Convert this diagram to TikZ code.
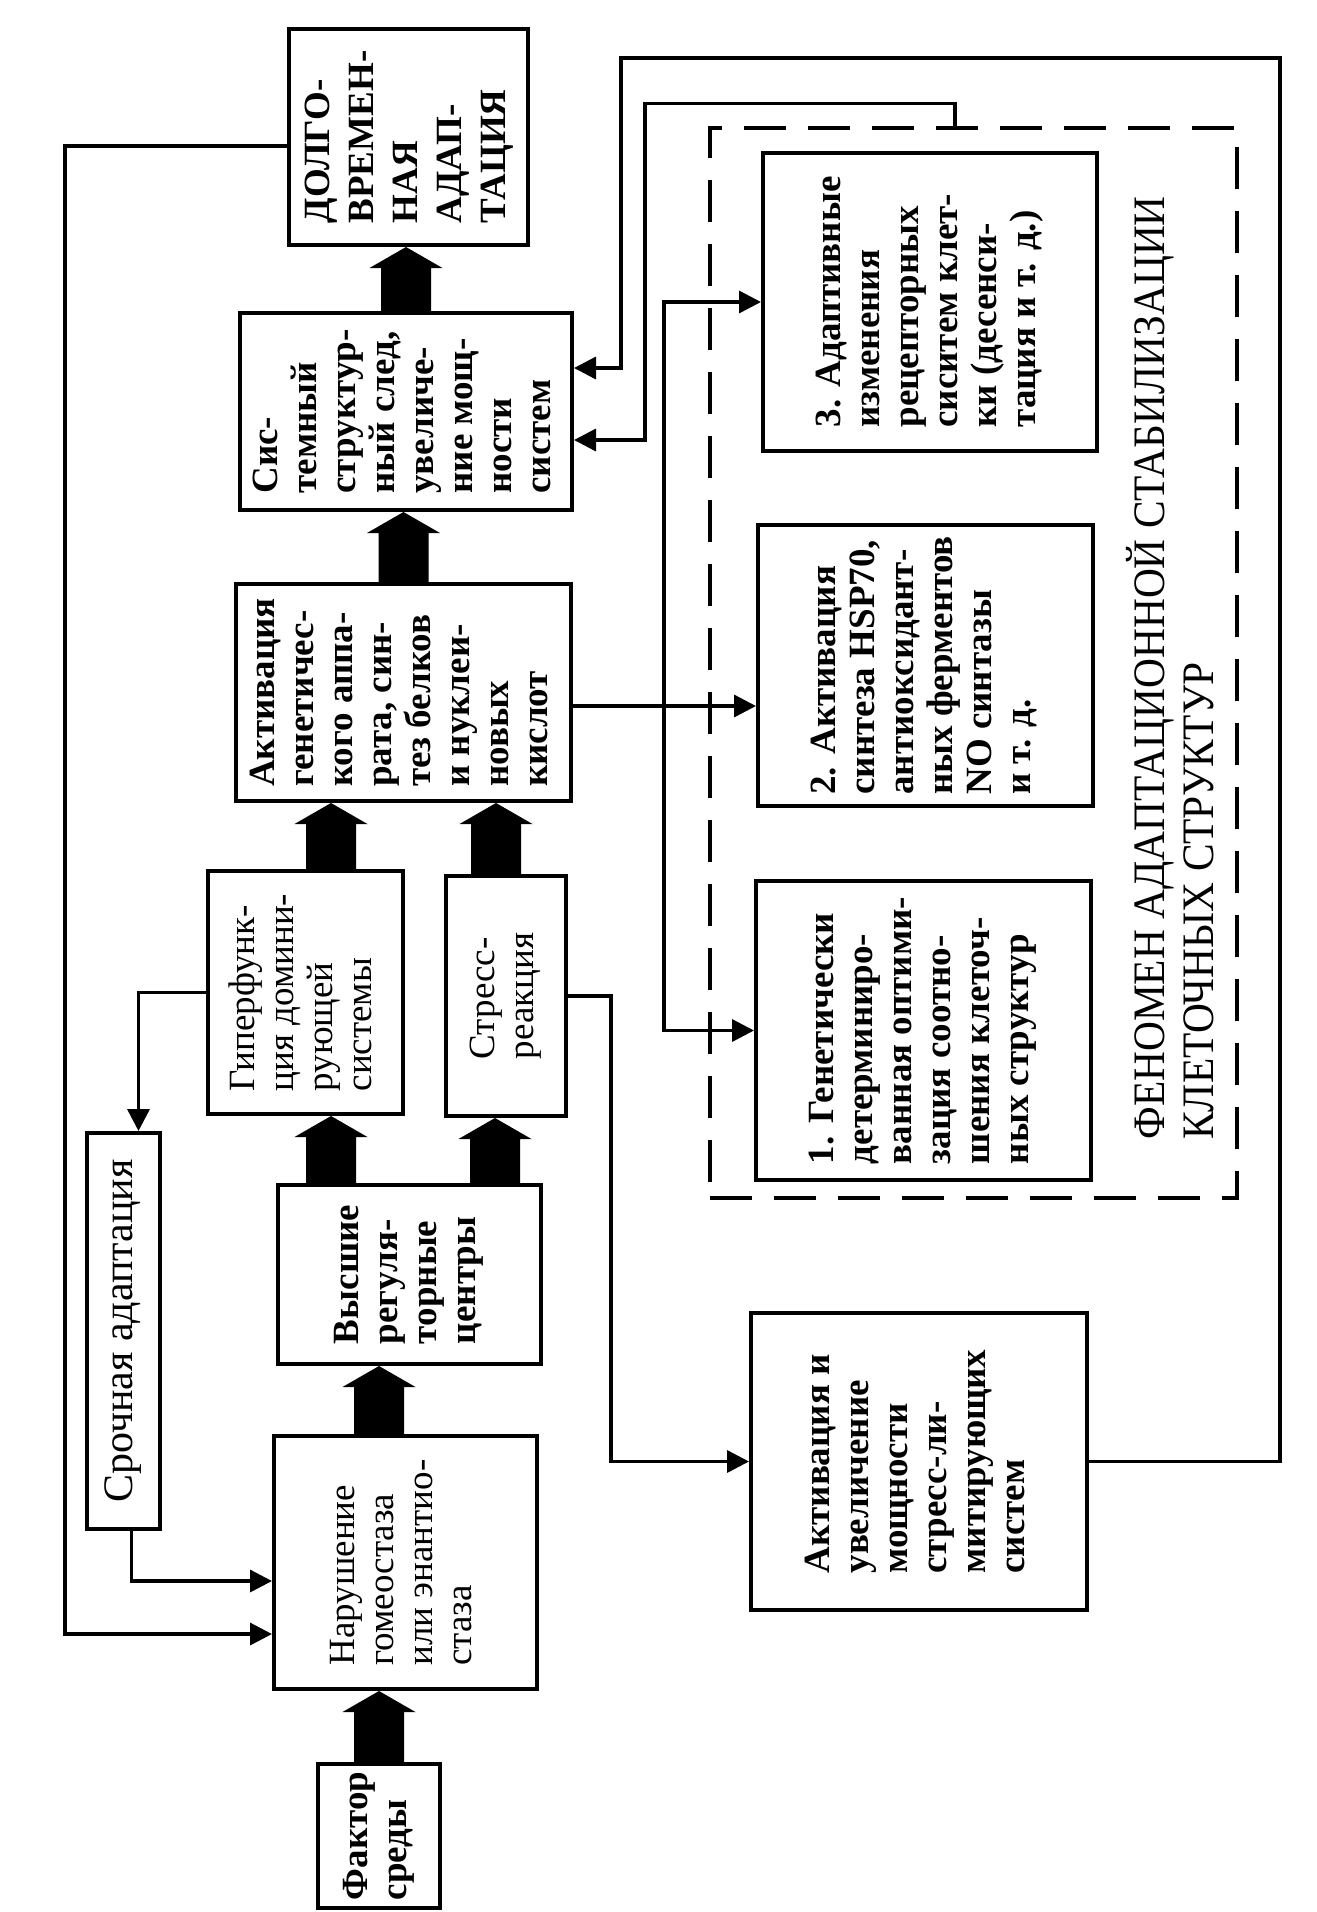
\documentclass[tikz,border=0pt]{standalone}
\usepackage{fontspec}
\setmainfont{Liberation Serif}
\newfontfamily\condserif[FakeStretch=0.92]{Liberation Serif}
\usetikzlibrary{arrows.meta,positioning,calc}

\newcommand{\vtext}[1]{\rotatebox{90}{\begin{tabular}{@{}l@{}}#1\end{tabular}}}
\newcommand{\fatup}[2]{%
  \fill let \p1=(#1), \p2=(#2) in
    (\x1-12.5pt,\y1) -- (\x1-12.5pt,\y2-10.5pt) -- (\x1-18.25pt,\y2-10.5pt) -- (\x1,\y2)
    -- (\x1+18.25pt,\y2-10.5pt) -- (\x1+12.5pt,\y2-10.5pt) -- (\x1+12.5pt,\y1) -- cycle;}

\begin{document}
\begin{tikzpicture}[x=0.5pt,y=-0.5pt,
  box/.style 2 args={draw,line width=2pt,inner sep=0pt,minimum width=#1*0.5pt,minimum height=#2*0.5pt},
  bf/.style={font=\fontsize{18.5}{19.5}\selectfont\bfseries},
  rm/.style={font=\fontsize{18.5}{19.5}\selectfont},
  link/.style={line width=1.7pt,-{Triangle[length=11pt,width=11pt]}}]
  \fill[white] (0,0) rectangle (1317,1912);

  \node[box={239}{216},font=\fontsize{18.5}{22}\selectfont\bfseries] (dolg) at (408.5,137)
    {\vtext{ДОЛГО-\\ВРЕМЕН-\\НАЯ\\АДАП-\\ТАЦИЯ}};
  \node[box={332}{197},bf] (sys) at (406,411.5)
    {\vtext{Сис-\\темный\\структур-\\ный след,\\увеличе-\\ние мощ-\\ности\\систем}};
  \node[box={335}{217},bf] (gen) at (403.5,692.5)
    {\vtext{Активация\\генетичес-\\кого аппа-\\рата, син-\\тез белков\\и нуклеи-\\новых\\кислот}};
  \node[box={195}{243},rm] (hyp) at (305.5,992.5)
    {\vtext{Гиперфунк-\\ция домини-\\рующей\\системы}};
  \node[box={120}{240},rm] (str) at (506,996) {\vtext{Стресс-\\реакция}};
  \node[box={263}{179},bf] (vys) at (409.5,1274.5) {\vtext{Высшие\\регуля-\\торные\\центры}};
  \node[box={263}{253},rm] (nar) at (405.5,1562.5)
    {\vtext{Нарушение\\гомеостаза\\или энантио-\\стаза}};
  \node[box={122}{144},bf] (fac) at (379,1836) {\vtext{Фактор\\среды}};
  \node[box={73}{396},font=\fontsize{21}{22}\selectfont] (sro) at (123.5,1331) {\vtext{Срочная адаптация}};
  \node[box={336}{297},bf] (lim) at (919,1461.5)
    {\vtext{Активация и\\увеличение\\мощности\\стресс-ли-\\митирующих\\систем}};

  \node[box={527}{1070},line width=1.7pt,dash pattern=on 21pt off 11pt] (phen) at (973.5,663) {};
  \node[box={334}{298},bf] (b3) at (930,302)
    {\vtext{3. Адаптивные\\изменения\\рецепторных\\сиситем клет-\\ки (десенси-\\тация и т. д.)}};
  \node[box={335}{281},bf] (b2) at (925.5,665.5)
    {\vtext{2. Активация\\синтеза HSP70,\\антиоксидант-\\ных ферментов\\NO синтазы\\и т. д.}};
  \node[box={335}{299},bf] (b1) at (923.5,1030.5)
    {\vtext{1. Генетически\\детерминиро-\\ванная оптими-\\зация соотно-\\шения клеточ-\\ных структур}};
  \node[anchor=south,inner sep=0pt,font=\condserif\fontsize{22.5}{24.5}\selectfont] (phentxt) at (1177,1140)
    {\vtext{ФЕНОМЕН АДАПТАЦИОННОЙ СТАБИЛИЗАЦИИ\\КЛЕТОЧНЫХ СТРУКТУР}};

  \fatup{fac.north}{nar.south}
  \fatup{fac.north |- nar.north}{vys.south}
  \fatup{$(vys.north)+(-78.5,0)$}{hyp.south}
  \fatup{$(vys.north)+(85.5,0)$}{str.south}
  \fatup{$(hyp.north)+(25.5,0)$}{gen.south}
  \fatup{$(str.north)+(-10,0)$}{gen.south}
  \fatup{gen.north}{sys.south}
  \fatup{sys.north}{dolg.south}

  \coordinate (out1) at ($(dolg.west)+(0,9)$);
  \coordinate (in1) at ($(nar.west)+(0,71.5)$);
  \coordinate (in2) at ($(nar.west)+(0,18.5)$);
  \coordinate (sroTop) at ($(sro.north)+(15,0)$);
  \coordinate (sysIn1) at ($(sys.east)+(0,-43.5)$);
  \coordinate (sysIn2) at ($(sys.east)+(0,28.5)$);
  \coordinate (phenTop) at ($(phen.north)+(-18.5,0)$);
  \coordinate (genOut) at ($(gen.east)+(0,13.5)$);
  \coordinate (fork) at ($(genOut)+(91,0)$);

  \draw[link] (out1) -- ++(-222,0) |- (in1);
  \draw[link] (hyp.west) -| (sroTop);
  \draw[link] ($(sro.south)+(8,0)$) |- (in2);
  \draw[link] (str.east) -- ++(43,0) |- (lim.west);
  \draw[link] (lim.east) -| (1280,58) -| (621,368) -- (sysIn1);
  \draw[link] (phenTop) -- ++(0,-23) -| (645,440) -- (sysIn2);
  \draw[link] (genOut) -- (b2.west |- genOut);
  \draw[link] (fork) |- (b3.west);
  \draw[link] (fork) |- (b1.west);
\end{tikzpicture}
\end{document}
